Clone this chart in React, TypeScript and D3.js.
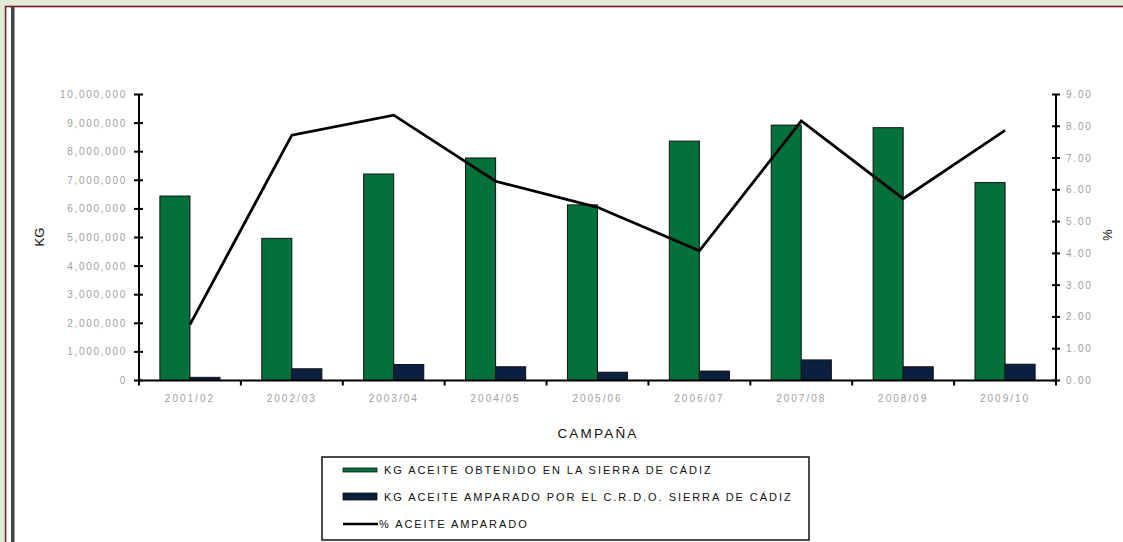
import React from "react";
import * as d3 from "d3";

const campaigns = ["2001/02", "2002/03", "2003/04", "2004/05", "2005/06", "2006/07", "2007/08", "2008/09", "2009/10"];
const kgObtenido = [6450000, 4970000, 7220000, 7780000, 6140000, 8370000, 8930000, 8840000, 6920000];
const kgAmparado = [110000, 410000, 560000, 480000, 290000, 330000, 720000, 480000, 570000];
const pctAmparado = [1.76, 7.72, 8.35, 6.27, 5.45, 4.08, 8.17, 5.72, 7.87];
const leftTicks = [0, 1000000, 2000000, 3000000, 4000000, 5000000, 6000000, 7000000, 8000000, 9000000, 10000000];
const rightTicks = [0, 1, 2, 3, 4, 5, 6, 7, 8, 9];
const legendLabels = [
  "KG ACEITE OBTENIDO EN LA SIERRA DE CÁDIZ",
  "KG ACEITE AMPARADO POR EL C.R.D.O. SIERRA DE CÁDIZ",
  "% ACEITE AMPARADO",
];

const GREEN = "#04703a";
const NAVY = "#0b1f40";
const FONT = "'Liberation Sans', Arial, sans-serif";
const TICK_GRAY = "#9e9e9e";

export default function App() {
  const W = 1123, H = 542;
  const left = 139, right = 1056, top = 94.5, bottom = 380.5;
  const x = d3.scaleBand<string>().domain(campaigns).range([left, right]).paddingInner(0.41).paddingOuter(0.205);
  const x1 = d3.scaleBand<string>().domain(["a", "b"]).range([0, x.bandwidth()]);
  const yL = d3.scaleLinear().domain([0, 10000000]).range([bottom, top]);
  const yR = d3.scaleLinear().domain([0, 9]).range([bottom, top]);
  const fmtL = d3.format(",");
  const fmtR = d3.format(".2f");
  const line = d3
    .line<number>()
    .x((_, i) => (x(campaigns[i]) as number) + x.bandwidth() / 2)
    .y((d) => yR(d));
  const step = x.step();

  return (
    <svg width={W} height={H} style={{ position: "absolute", left: 0, top: 0, display: "block" }} fontFamily={FONT}>
      <rect x={0} y={0} width={W} height={H} fill="#ffffff" />
      {/* outer frame */}
      <rect x={0} y={0} width={W} height={6} fill="#e2ebd5" />
      <rect x={0} y={0} width={4} height={H} fill="#e2ebd5" />
      <rect x={4} y={5} width={W} height={1} fill="#b9b0a8" />
      <rect x={4} y={5} width={1} height={H} fill="#c4c4c4" />
      <rect x={5} y={6} width={W} height={1.3} fill="#7a1a1a" />
      <rect x={5} y={6} width={1.3} height={H} fill="#7a1a1a" />
      <rect x={11} y={7} width={3} height={H} fill="#444444" />
      <rect x={14} y={7} width={1} height={H} fill="#999999" />

      {/* bars */}
      {campaigns.map((c, i) => (
        <g key={c} transform={`translate(${x(c)},0)`}>
          <rect
            x={x1("a")}
            y={yL(kgObtenido[i])}
            width={x1.bandwidth()}
            height={yL(0) - yL(kgObtenido[i])}
            fill={GREEN}
            stroke="#111"
            strokeWidth={1}
          />
          <rect
            x={x1("b")}
            y={yL(kgAmparado[i])}
            width={x1.bandwidth()}
            height={yL(0) - yL(kgAmparado[i])}
            fill={NAVY}
            stroke="#111"
            strokeWidth={1}
          />
        </g>
      ))}

      {/* line */}
      <path d={line(pctAmparado) || ""} fill="none" stroke="#000" strokeWidth={2.8} strokeLinejoin="miter" />

      {/* left axis */}
      <line x1={left} x2={left} y1={top} y2={bottom} stroke="#000" strokeWidth={2} />
      {leftTicks.map((t) => (
        <g key={t}>
          <line x1={left - 5} x2={left + 4} y1={yL(t)} y2={yL(t)} stroke="#000" strokeWidth={2} />
          <text x={127} y={yL(t)} dy="0.35em" textAnchor="end" fontSize={10} fill={TICK_GRAY} letterSpacing={1.7}>
            {fmtL(t)}
          </text>
        </g>
      ))}

      {/* right axis */}
      <line x1={right} x2={right} y1={top} y2={bottom} stroke="#000" strokeWidth={2} />
      {rightTicks.map((t) => (
        <g key={t}>
          <line x1={right - 4} x2={right + 4} y1={yR(t)} y2={yR(t)} stroke="#000" strokeWidth={2} />
          <text x={1066} y={yR(t)} dy="0.35em" textAnchor="start" fontSize={10} fill={TICK_GRAY} letterSpacing={1.8}>
            {fmtR(t)}
          </text>
        </g>
      ))}

      {/* x axis */}
      <line x1={left} x2={right} y1={bottom} y2={bottom} stroke="#000" strokeWidth={2} />
      {d3.range(campaigns.length + 1).map((i) => (
        <line key={i} x1={left + i * step} x2={left + i * step} y1={bottom} y2={bottom + 5} stroke="#000" strokeWidth={2} />
      ))}
      {campaigns.map((c) => (
        <text key={c} x={(x(c) as number) + x.bandwidth() / 2} y={402} textAnchor="middle" fontSize={10} fill={TICK_GRAY} letterSpacing={2}>
          {c}
        </text>
      ))}

      {/* axis titles */}
      <text x={598} y={438} textAnchor="middle" fontSize={13.5} fill="#111" letterSpacing={2.2}>
        CAMPAÑA
      </text>
      <text transform="translate(44,237) rotate(-90)" textAnchor="middle" fontSize={13} fill="#111">
        KG
      </text>
      <text transform="translate(1103,235) rotate(90)" textAnchor="middle" fontSize={13} fill="#111">
        %
      </text>

      {/* legend */}
      <rect x={322} y={457} width={487} height={83} fill="#fff" stroke="#111" strokeWidth={1.5} />
      <rect x={343} y={468} width={34} height={4} fill={GREEN} stroke="#111" strokeWidth={0.8} />
      <text x={384} y={470} dy="0.35em" fontSize={11} fill="#111" letterSpacing={1.95}>
        {legendLabels[0]}
      </text>
      <rect x={343} y={493} width={34} height={7} fill={NAVY} stroke="#111" strokeWidth={0.8} />
      <text x={384} y={497} dy="0.35em" fontSize={11} fill="#111" letterSpacing={1.95}>
        {legendLabels[1]}
      </text>
      <line x1={343} x2={378} y1={524} y2={524} stroke="#000" strokeWidth={2.6} />
      <text x={379} y={524} dy="0.35em" fontSize={11} fill="#111" letterSpacing={1.95}>
        {legendLabels[2]}
      </text>
    </svg>
  );
}
